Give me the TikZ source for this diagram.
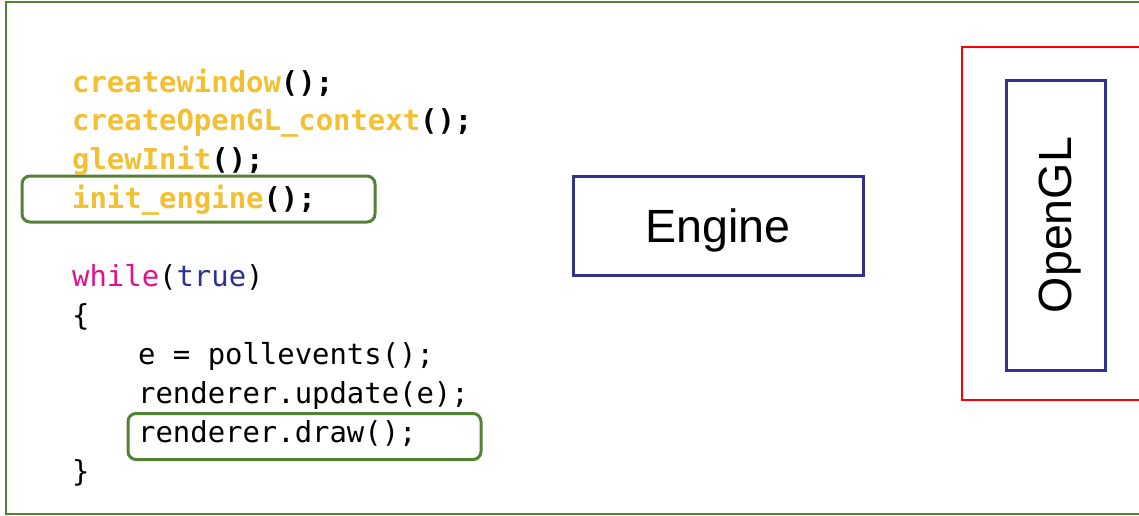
\documentclass[tikz,border=0pt]{standalone}
\usepackage{fontspec}
\setmonofont{DejaVu Sans Mono}
\setsansfont{Liberation Sans}
\usetikzlibrary{positioning}
\definecolor{GlGreen}{RGB}{84,130,53}
\definecolor{GlNavy}{RGB}{50,50,140}
\definecolor{GlRed}{RGB}{255,0,0}
\definecolor{GlYellow}{RGB}{242,192,50}
\definecolor{GlPink}{RGB}{226,16,140}
\definecolor{GlBlue}{RGB}{46,49,146}
\newcommand{\codefont}{\fontsize{28.9}{34}\selectfont\ttfamily}
\newcommand{\labelfont}{\fontsize{46.6}{52}\selectfont\sffamily}
\newcommand{\fn}[1]{\textcolor{GlYellow}{#1}}
\newcommand{\kw}[1]{\textcolor{GlPink}{#1}}
\newcommand{\lit}[1]{\textcolor{GlBlue}{#1}}
\tikzset{
  gl/frame/.style={draw=GlGreen, line width=2pt},
  gl/code/.style={anchor=base west, inner sep=0pt, font=\codefont, text=black},
  gl/setup/.style={gl/code, font=\codefont\bfseries},
  gl/mark/.style={
    draw=GlGreen,
    line width=3pt,
    rounded corners=8pt,
    minimum width=353pt,
    minimum height=46pt,
    inner sep=0pt
  },
  gl/box/.style={
    draw=GlNavy,
    line width=3pt,
    fill=white,
    inner sep=0pt
  },
  gl/label/.style={font=\labelfont, text=black, text depth=0pt, inner sep=0pt},
  gl/api/.style={draw=GlRed, line width=1.5pt, inner sep=0pt}
}

\begin{document}
\begin{tikzpicture}[x=1pt,y=-1pt]
  \useasboundingbox (0,0) rectangle (1139,515);
  \clip (0,0) rectangle (1139,515);
  \draw[gl/frame] (6,2) rectangle (1170,514);

  % setup calls
  \node[gl/mark] (markinit) at (198.5,199) {};
  \node[gl/setup] (l1) at (72,92) {\fn{createwindow}();};
  \node[gl/setup] (l2) at (72,130.9) {\fn{createOpenGL\_context}();};
  \node[gl/setup] (l3) at (72,169.8) {\fn{glewInit}();};
  \node[gl/setup] (l4) at (72,208.7) {\fn{init\_engine}();};

  % main loop
  \node[gl/mark] (markdraw) at (304.5,436.5) {};
  \node[gl/code] (l5) at (72,286.5) {\kw{while}(\lit{true})};
  \node[gl/code] (l6) at (72,325.4) {\{};
  \node[gl/code] (l7) at (138,364.3) {e = pollevents();};
  \node[gl/code] (l8) at (138,403.2) {renderer.update(e);};
  \node[gl/code] (l9) at (138,442.1) {renderer.draw();};
  \node[gl/code] (l10) at (72,481) {\}};

  % layers
  \node[gl/box,minimum width=290pt,minimum height=99pt] (engine) at (718,225.5) {};
  \node[gl/label] (enginetext) at (engine) {Engine};
  \node[gl/api,minimum width=210pt,minimum height=353pt] (api) at (1067,223.5) {};
  \node[gl/box,minimum width=99pt,minimum height=290pt] (opengl) at (1055.5,225) {};
  \node[gl/label,rotate=90] (opengltext) at (opengl) {OpenGL};
\end{tikzpicture}
\end{document}
